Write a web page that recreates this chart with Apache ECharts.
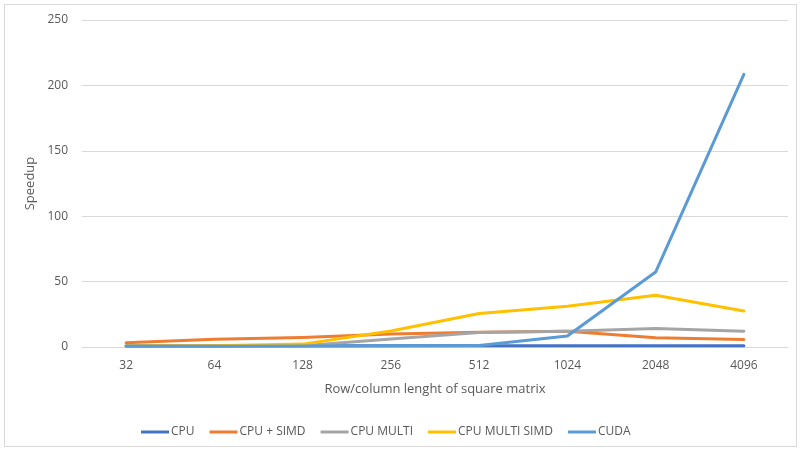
<!DOCTYPE html>
<html>
<head>
<meta charset="utf-8">
<script src="https://cdn.jsdelivr.net/npm/echarts@6/dist/echarts.min.js"></script>
<style>
  html, body { margin: 0; padding: 0; background: #fff; }
  #frame { position: absolute; left: 4px; top: 4px; width: 793px; height: 443px; border: 1px solid #d9d9d9; box-sizing: border-box; }
  #chart { width: 802px; height: 452px; }
</style>
</head>
<body>
<div id="frame"></div>
<div id="chart"></div>
<script>
// Matrix sizes (row/column length)
const sizes = ['32', '64', '128', '256', '512', '1024', '2048', '4096'];

// Speedup relative to the single-threaded CPU baseline
const cpu          = [1, 1, 1, 1, 1, 1, 1, 1];
const cpuSimd      = [3.2, 6, 7.3, 10, 11.3, 12, 7, 5.7];
const cpuMulti     = [0.6, 0.8, 1, 6.2, 11, 12, 14.2, 12];
const cpuMultiSimd = [0.8, 0.9, 2.2, 12.2, 25.6, 31.2, 39.6, 27.6];
const cuda         = [0.5, 0.6, 0.7, 0.9, 1.2, 8.4, 57.3, 208.5];

const yTicks = { min: 0, max: 250, interval: 50 };

const font = '"Open Sans", "Liberation Sans", sans-serif';
const textColor = '#595959';

function line(name, data, color) {
  return {
    name, type: 'line', data,
    symbol: 'none',
    lineStyle: { color, width: 3, cap: 'round', join: 'round' },
    itemStyle: { color }
  };
}

const chart = echarts.init(document.getElementById('chart'));
chart.setOption({
  animation: false,
  textStyle: { fontFamily: font },
  grid: { left: 82, right: 14, top: 20, bottom: 105 },
  legend: {
    top: 421,
    left: 136,
    itemWidth: 28,
    itemHeight: 3,
    itemGap: 15,
    icon: 'rect',
    textStyle: { color: textColor, fontSize: 12, fontFamily: font, padding: [0, 0, 0, -3] },
    data: ['CPU', 'CPU + SIMD', 'CPU MULTI', 'CPU MULTI SIMD', 'CUDA']
  },
  xAxis: {
    type: 'category',
    data: sizes,
    boundaryGap: true,
    name: 'Row/column lenght of square matrix',
    nameLocation: 'middle',
    nameGap: 36,
    nameTextStyle: { color: textColor, fontSize: 13, fontFamily: font },
    axisLine: { lineStyle: { color: '#d9d9d9', width: 1 } },
    axisTick: { show: false },
    axisLabel: { color: textColor, fontSize: 12, margin: 13, fontFamily: font }
  },
  yAxis: {
    type: 'value',
    min: yTicks.min, max: yTicks.max, interval: yTicks.interval,
    name: 'Speedup',
    nameLocation: 'middle',
    nameGap: 40,
    nameRotate: 90,
    nameTextStyle: { color: textColor, fontSize: 13, fontFamily: font },
    axisLine: { show: false },
    axisTick: { show: false },
    axisLabel: { color: textColor, fontSize: 12, margin: 14, fontFamily: font },
    splitLine: { lineStyle: { color: '#d9d9d9', width: 1 } }
  },
  series: [
    line('CPU', cpu, '#4472C4'),
    line('CPU + SIMD', cpuSimd, '#ED7D31'),
    line('CPU MULTI', cpuMulti, '#A5A5A5'),
    line('CPU MULTI SIMD', cpuMultiSimd, '#FFC000'),
    line('CUDA', cuda, '#5B9BD5')
  ]
});
</script>
</body>
</html>
